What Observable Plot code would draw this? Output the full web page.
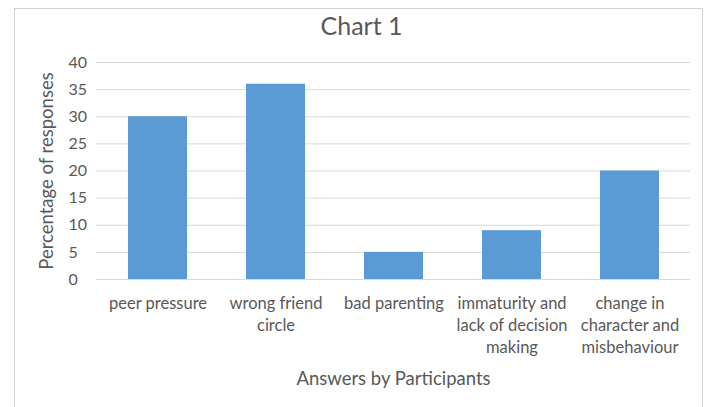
<!DOCTYPE html>
<html><head><meta charset="utf-8">
<script src="https://cdn.jsdelivr.net/npm/d3@7"></script>
<script src="https://cdn.jsdelivr.net/npm/@observablehq/plot@0.6"></script>
<style>
body{margin:0;background:#fff;}
#wrap{position:relative;width:711px;height:407px;overflow:hidden;}
#border{position:absolute;left:14px;top:8px;width:689px;height:420px;border:1px solid #d4d4d4;box-sizing:border-box;}
#chart{position:absolute;left:0;top:0;}
</style></head>
<body><div id="wrap"><div id="border"></div><div id="chart"></div></div>
<script>
const categories = ["peer pressure","wrong friend circle","bad parenting","immaturity and lack of decision making","change in character and misbehaviour"];
const tickLabels = ["peer pressure","wrong friend\ncircle","bad parenting","immaturity and\nlack of decision\nmaking","change in\ncharacter and\nmisbehaviour"];
const values = [30,36,5,9,20];
const yTicks = [0,5,10,15,20,25,30,35,40];
const title = "Chart 1";
const xTitle = "Answers by Participants";
const yTitle = "Percentage of responses";

const data = categories.map((c,i)=>({category:c, value:values[i]}));
const font = "Lato, 'Open Sans', sans-serif";
const chart = Plot.plot({
  width:711, height:407,
  marginLeft:96, marginRight:21, marginTop:62, marginBottom:128,
  style:{fontFamily:font, fontSize:"14px", color:"#595959", background:"transparent"},
  x:{domain:categories, paddingInner:0.5, paddingOuter:0.25, label:null},
  y:{domain:[0,40], ticks:yTicks, label:null},
  marks:[
    Plot.gridY(yTicks,{stroke:"#d9d9d9", strokeOpacity:1, strokeWidth:1}),
    Plot.barY(data,{x:"category", y:"value", fill:"#5b9bd5"}),
    Plot.axisY(yTicks,{tickSize:0, tickPadding:28, textAnchor:"start", fontSize:16, fill:"#595959"}),
    Plot.axisX({tickSize:0, tickPadding:14, fontSize:16.5, fill:"#595959", lineHeight:1.34, tickFormat:(d)=>tickLabels[categories.indexOf(d)], textOverflow:null}),
    Plot.text([title],{frameAnchor:"top", dx:-32, dy:-45, fontSize:25, fill:"#595959"}),
    Plot.text([xTitle],{frameAnchor:"bottom", dy:105, fontSize:18.5, fill:"#595959"}),
    Plot.text([yTitle],{frameAnchor:"left", dx:-49, rotate:-90, textAnchor:"middle", fontSize:18.5, fill:"#595959"})
  ]
});
document.getElementById("chart").appendChild(chart);
</script></body></html>
